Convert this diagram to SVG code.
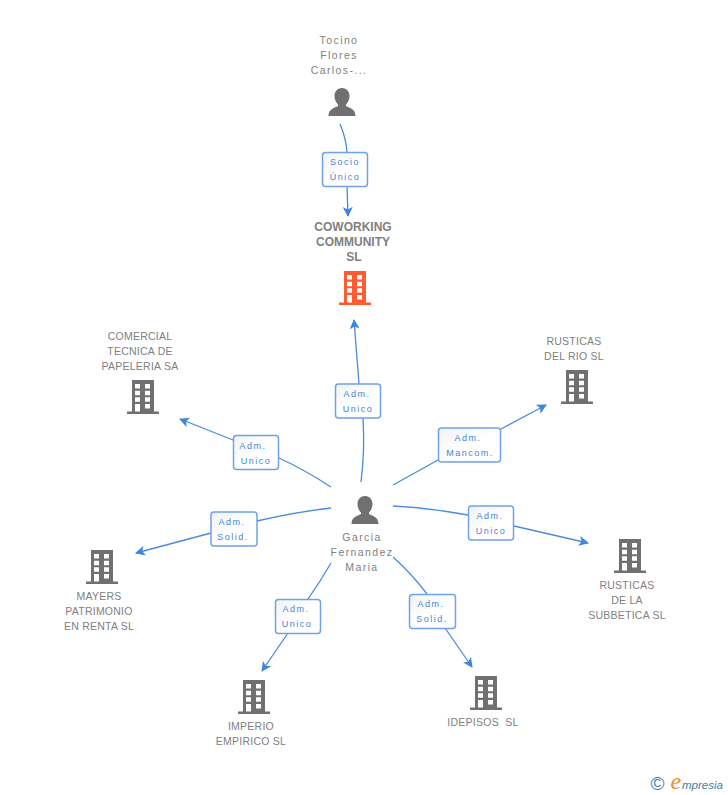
<svg xmlns="http://www.w3.org/2000/svg" width="728" height="795" viewBox="0 0 728 795">
<style>
.n{font-family:"Liberation Sans",Arial,sans-serif;font-size:10.5px;fill:#808080;text-anchor:middle;letter-spacing:.25px}
.m{letter-spacing:1.4px}
.nb{font-family:"Liberation Sans",Arial,sans-serif;font-size:12px;font-weight:bold;fill:#808080;text-anchor:middle}
.l{font-family:"Liberation Sans",Arial,sans-serif;font-size:9px;fill:#3f84e0;text-anchor:middle;letter-spacing:1.5px}
.b{fill:url(#g);stroke:#6ea3e8;stroke-width:1.5}
.c{fill:none;stroke:#4a8ae0;stroke-width:1.3}
.gray{fill:#707070}.red{fill:#ff5a30}
</style>
<defs>
<linearGradient id="g" x1="0" y1="0" x2="1" y2="1"><stop offset="0" stop-color="#f2f2f2"/><stop offset=".5" stop-color="#fff"/></linearGradient>
<marker id="a" markerWidth="11" markerHeight="10" refX="9" refY="5" orient="auto" markerUnits="userSpaceOnUse"><path d="M0 0L10 5L0 10L2.500 5Z" fill="#3f84e0"/></marker>
<path id="bld" fill-rule="evenodd" d="M-11 0H11V31.500H16V34H-16V31.500H-11ZM-8 4V8.500H-3V4ZM2 4V8.500H7V4ZM-8 10.700V15.200H-3V10.700ZM2 10.700V15.200H7V10.700ZM-8 17.300V21.800H-3V17.300ZM2 17.300V21.800H7V17.300ZM-8 24V31.500H-3V24ZM2 24V28.500H7V24Z"/>
<path id="per" d="M0 0C5 0 7.500 4 7.500 8C7.500 12 5.500 15 4 16.500V18C7 20 13.500 20.500 13.500 28H-13.500C-13.500 20.500 -7 20 -4 18V16.500C-5.500 15 -7.500 12 -7.500 8C-7.500 4 -5 0 0 0Z"/>
</defs>
<g id="connectors">
<path class="c" d="M340 124Q346 138 347 152"/><path class="c" d="M347 186L348 216" marker-end="url(#a)"/>
<path class="c" d="M361 482Q365 450 363 418"/><path class="c" d="M359 384L354 320" marker-end="url(#a)"/>
<path class="c" d="M331 487Q305 470 279 458"/><path class="c" d="M233 440L180 419" marker-end="url(#a)"/>
<path class="c" d="M393 485L438 460"/><path class="c" d="M501 429L546 405" marker-end="url(#a)"/>
<path class="c" d="M393 506Q430 508 468 515"/><path class="c" d="M514 526L588 543" marker-end="url(#a)"/>
<path class="c" d="M331 508Q295 512 257 521"/><path class="c" d="M211 533L136 553" marker-end="url(#a)"/>
<path class="c" d="M331 563Q320 582 308 599"/><path class="c" d="M288 633L262 671" marker-end="url(#a)"/>
<path class="c" d="M393 557Q412 574 427 594"/><path class="c" d="M445 628L472 667" marker-end="url(#a)"/>
</g>
<g id="n-tocino"><text class="n m" x="339" y="44">Tocino</text><text class="n m" x="339" y="59">Flores</text><text class="n m" x="339" y="74">Carlos-...</text><use href="#per" x="342" y="88" class="gray"/></g>
<g id="n-coworking"><text class="nb" x="353" y="231">COWORKING</text><text class="nb" x="353" y="246">COMMUNITY</text><text class="nb" x="354" y="261">SL</text><use href="#bld" x="355" y="271" class="red"/></g>
<g id="n-comercial"><text class="n" x="140" y="340">COMERCIAL</text><text class="n" x="140" y="355">TECNICA DE</text><text class="n" x="140" y="370">PAPELERIA SA</text><use href="#bld" x="143" y="380" class="gray"/></g>
<g id="n-rio"><text class="n" x="574" y="345">RUSTICAS</text><text class="n" x="574" y="360">DEL RIO SL</text><use href="#bld" x="577" y="370" class="gray"/></g>
<g id="n-subbetica"><use href="#bld" x="630" y="539" class="gray"/><text class="n" x="627" y="589">RUSTICAS</text><text class="n" x="627" y="604">DE LA</text><text class="n" x="627" y="619">SUBBETICA SL</text></g>
<g id="n-mayers"><use href="#bld" x="102" y="550" class="gray"/><text class="n" x="99" y="600">MAYERS</text><text class="n" x="99" y="615">PATRIMONIO</text><text class="n" x="99" y="630">EN RENTA SL</text></g>
<g id="n-imperio"><use href="#bld" x="254" y="680" class="gray"/><text class="n" x="251" y="730">IMPERIO</text><text class="n" x="251" y="745">EMPIRICO SL</text></g>
<g id="n-idepisos"><use href="#bld" x="486" y="676" class="gray"/><text class="n" x="483" y="726" xml:space="preserve">IDEPISOS  SL</text></g>
<g id="n-garcia"><use href="#per" x="365" y="496" class="gray"/><text class="n m" x="362" y="541">Garcia</text><text class="n m" x="362" y="556">Fernandez</text><text class="n m" x="362" y="571">Maria</text></g>
<g id="l-socio"><rect class="b" x="322.500" y="152.500" width="45" height="34" rx="3"/><text class="l" x="345" y="165">Socio</text><text class="l" x="345" y="180">Único</text></g>
<g id="l-coworking"><rect class="b" x="335.500" y="384" width="45" height="34" rx="3"/><text class="l" x="357" y="397">Adm.</text><text class="l" x="358" y="412">Unico</text></g>
<g id="l-comercial"><rect class="b" x="233.500" y="435.500" width="45" height="34" rx="3"/><text class="l" x="253" y="449">Adm.</text><text class="l" x="256" y="464">Unico</text></g>
<g id="l-rio"><rect class="b" x="438.500" y="428" width="62" height="34" rx="3"/><text class="l" x="468" y="441">Adm.</text><text class="l" x="470" y="456">Mancom.</text></g>
<g id="l-subbetica"><rect class="b" x="468.500" y="506" width="45" height="34" rx="3"/><text class="l" x="490" y="519">Adm.</text><text class="l" x="491" y="534">Unico</text></g>
<g id="l-mayers"><rect class="b" x="211" y="512" width="46" height="34" rx="3"/><text class="l" x="232" y="525">Adm.</text><text class="l" x="233" y="540">Solid.</text></g>
<g id="l-imperio"><rect class="b" x="275.500" y="599.500" width="45" height="34" rx="3"/><text class="l" x="296" y="612">Adm.</text><text class="l" x="297" y="627">Unico</text></g>
<g id="l-idepisos"><rect class="b" x="409.500" y="594.500" width="46" height="34" rx="3"/><text class="l" x="431" y="607">Adm.</text><text class="l" x="432" y="622">Solid.</text></g>
<g id="logo"><text x="657.500" y="790" font-family="Liberation Sans,sans-serif" font-size="19" fill="#3f7f9f" text-anchor="middle">©</text><text x="670.500" y="789" font-family="Liberation Serif,serif" font-size="24" font-style="italic" fill="#f08a20">e</text><text x="682" y="789" font-family="Liberation Sans,sans-serif" font-size="11.500" font-style="italic" fill="#3f7f9f">mpresia</text></g>
</svg>
